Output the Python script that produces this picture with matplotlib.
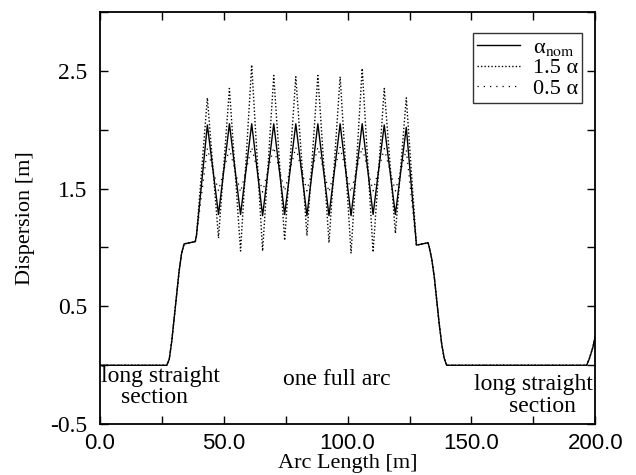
import numpy as np
import matplotlib
matplotlib.use('Agg')
import matplotlib.pyplot as plt
from matplotlib.ticker import MultipleLocator, FixedLocator

plt.rcParams['mathtext.fontset'] = 'stix'

# shared entry ramp (long straight -> arc)
entry_x = [0.0, 27.0, 28.0, 29.0, 30.0, 31.0, 32.0, 33.0, 34.0, 38.5, 39.0]
entry_y = [0.0, 0.0, 0.05, 0.2, 0.4, 0.6, 0.8, 0.95, 1.03, 1.05, 1.1]

# arc: alternating peaks / troughs
arc_x = [43.4, 47.9, 52.3, 56.8, 61.3, 65.7, 70.2, 74.6, 79.1, 83.6,
         88.0, 92.5, 97.0, 101.4, 105.9, 110.3, 114.8, 119.3, 123.7]
nom_arc = [2.04, 1.28, 2.05, 1.28, 2.05, 1.27, 2.05, 1.28, 2.05, 1.27,
           2.05, 1.27, 2.05, 1.27, 2.05, 1.28, 2.04, 1.28, 2.02]
high_arc = [2.27, 1.08, 2.35, 0.97, 2.55, 0.97, 2.46, 1.06, 2.45, 1.10,
            2.46, 1.04, 2.45, 0.95, 2.52, 0.96, 2.35, 1.12, 2.27]
low_arc = [1.84, 1.48, 1.84, 1.47, 1.85, 1.47, 1.85, 1.48, 1.85, 1.48,
           1.85, 1.47, 1.85, 1.47, 1.85, 1.48, 1.84, 1.48, 1.83]

# shared exit ramp (arc -> long straight)
exit_x = [127.8, 132.5, 133.0, 134.0, 135.0, 136.0, 137.0, 138.0, 139.0,
          140.0, 196.5, 197.5, 199.0, 200.0]
exit_y = [1.02, 1.04, 1.0, 0.9, 0.75, 0.55, 0.35, 0.18, 0.06,
          0.0, 0.0, 0.05, 0.15, 0.25]

labels = ['α$_{\\rm nom}$', '1.5 α', '0.5 α']

x_all = entry_x + arc_x + exit_x
fig = plt.figure(figsize=(6.36, 4.75), dpi=100)
ax = fig.add_axes([0.157, 0.107, 0.779, 0.868])

ax.plot(x_all, entry_y + low_arc + exit_y, color='black', lw=0.9,
        ls=(0, (1, 4)), label=labels[2])
ax.plot(x_all, entry_y + high_arc + exit_y, color='black', lw=1.0,
        ls=(0, (1, 1.5)), label=labels[1])
ax.plot(x_all, entry_y + nom_arc + exit_y, color='black', lw=1.0,
        ls='-', label=labels[0])

ax.set_xlim(0, 200)
ax.set_ylim(-0.5, 3.0)
ax.xaxis.set_major_locator(MultipleLocator(50))
ax.xaxis.set_minor_locator(MultipleLocator(25))
ax.yaxis.set_major_locator(FixedLocator([-0.5, 0.5, 1.5, 2.5]))
ax.yaxis.set_minor_locator(FixedLocator([0.0, 1.0, 2.0, 3.0]))
ax.xaxis.set_major_formatter(plt.FuncFormatter(lambda v, p: '%.1f' % v))
ax.yaxis.set_major_formatter(plt.FuncFormatter(lambda v, p: '%.1f' % v))
ax.tick_params(which='both', direction='in', top=True, right=True,
               length=6, width=1.0)
ax.tick_params(axis='x', pad=6)
ax.tick_params(axis='y', pad=9)
for t in ax.get_xticklabels():
    t.set_fontfamily('Liberation Sans')
    t.set_fontsize(16)
for t in ax.get_yticklabels():
    t.set_fontfamily('Liberation Serif')
    t.set_fontsize(17)
for s in ax.spines.values():
    s.set_linewidth(1.3)

ax.set_xlabel('Arc Length [m]', family='Liberation Serif', fontsize=16,
              labelpad=0)
ax.set_ylabel('Dispersion [m]', family='Liberation Serif', fontsize=16,
              labelpad=11)

tf = dict(family='Liberation Serif', fontsize=17, ha='center')
ax.text(24.5, -0.145, 'long straight', **tf)
ax.text(22.0, -0.32, 'section', **tf)
ax.text(95.5, -0.17, 'one full arc', **tf)
ax.text(175.0, -0.21, 'long straight', **tf)
ax.text(178.5, -0.40, 'section', **tf)

h, l = ax.get_legend_handles_labels()
leg = ax.legend(h[::-1], l[::-1], loc='upper right',
                bbox_to_anchor=(0.974, 0.949), borderaxespad=0,
                frameon=True, fancybox=False, edgecolor='black',
                prop={'family': 'Liberation Serif', 'size': 16},
                handlelength=1.9, handletextpad=0.6, labelspacing=0.0,
                borderpad=0.2)
leg.get_frame().set_linewidth(1.0)

fig.savefig('out.png', dpi=100)
